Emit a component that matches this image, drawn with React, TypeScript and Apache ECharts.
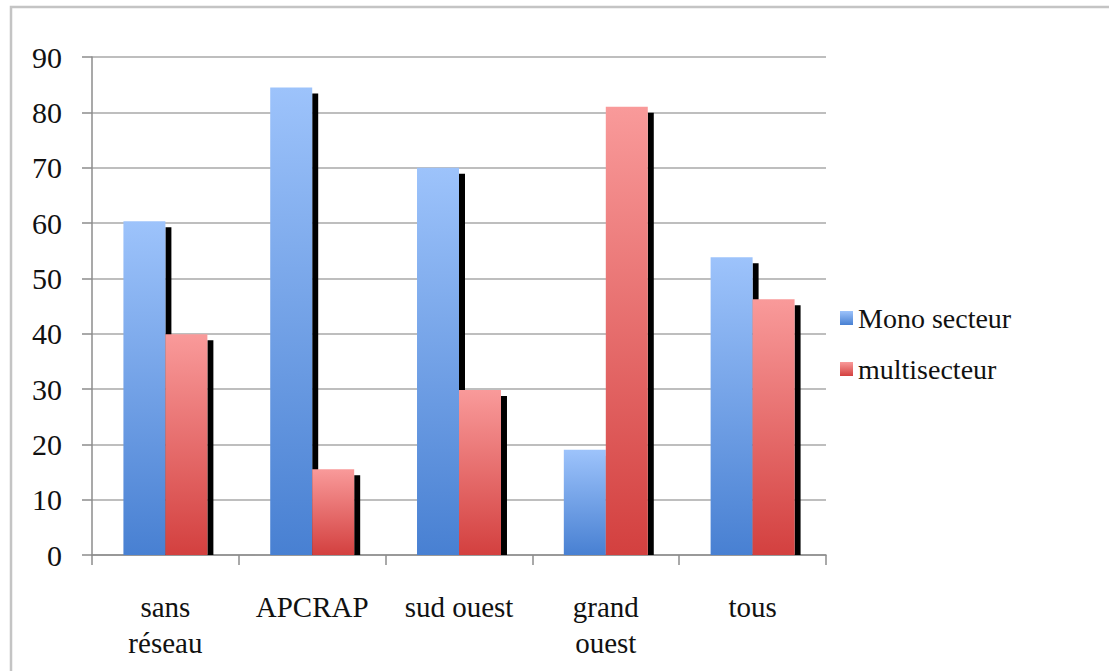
import React, { useEffect, useRef } from "react";
import * as echarts from "echarts";

const categories = ["sans\nréseau", "APCRAP", "sud ouest", "grand\nouest", "tous"];
const monoSecteur = [60.3, 84.5, 70, 19, 53.8];
const multiSecteur = [39.9, 15.5, 29.8, 81, 46.2];
const seriesNames = ["Mono secteur", "multisecteur"];
const yTicks = { min: 0, max: 90, interval: 10 };

const FONT = "Liberation Serif";

export default function App() {
  const ref = useRef<HTMLDivElement>(null);
  useEffect(() => {
    document.body.style.margin = "0";
    if (!ref.current) return;
    const chart = echarts.init(ref.current, undefined, { renderer: "svg" });

    const blueGrad = new echarts.graphic.LinearGradient(0, 0, 0, 1, [
      { offset: 0, color: "#9dc3fb" },
      { offset: 1, color: "#4880d2" },
    ]);
    const redGrad = new echarts.graphic.LinearGradient(0, 0, 0, 1, [
      { offset: 0, color: "#f99a9a" },
      { offset: 1, color: "#d3403f" },
    ]);

    const BAR_FRAC = 0.286;
    const SH = 6;

    const makeRender = (slot: number, grad: any) => (params: any, api: any) => {
      const idx = api.value(0);
      const val = api.value(1);
      const top = api.coord([idx, val]);
      const base = api.coord([idx, 0]);
      const band = api.size([1, 0])[0];
      const w = band * BAR_FRAC;
      const x = top[0] + (slot === 0 ? -w : 0);
      const h = base[1] - top[1];
      return {
        type: "group",
        children: [
          {
            type: "rect",
            shape: { x: x + w, y: top[1] + SH, width: SH, height: Math.max(0, h - SH) },
            style: { fill: "#000" },
          },
          {
            type: "rect",
            shape: { x, y: top[1], width: w, height: h },
            style: { fill: grad },
          },
        ],
      };
    };

    chart.setOption({
      animation: false,
      backgroundColor: "#fff",
      graphic: [
        {
          type: "rect",
          shape: { x: 11, y: 7, width: 1200, height: 800 },
          style: { fill: "none", stroke: "#c4c4c4", lineWidth: 2.5 },
          z: -10,
        },
      ],
      grid: { left: 92, right: 283, top: 57, bottom: 116 },
      legend: {
        orient: "vertical",
        left: 835,
        top: 299,
        itemWidth: 13,
        itemHeight: 14,
        itemGap: 23,
        icon: "rect",
        textStyle: { fontFamily: FONT, fontSize: 28, color: "#111" },
        data: seriesNames,
      },
      xAxis: {
        type: "category",
        data: categories,
        boundaryGap: true,
        axisLine: { lineStyle: { color: "#8c8c8c", width: 1.5 } },
        axisTick: { show: true, length: 10, lineStyle: { color: "#8c8c8c", width: 1.5 } },
        axisLabel: {
          fontFamily: FONT,
          fontSize: 29,
          color: "#111",
          margin: 34,
          lineHeight: 36,
          interval: 0,
        },
      },
      yAxis: {
        type: "value",
        min: yTicks.min,
        max: yTicks.max,
        interval: yTicks.interval,
        axisLine: { show: true, lineStyle: { color: "#8c8c8c", width: 1.5 } },
        axisTick: { show: true, length: 10, lineStyle: { color: "#8c8c8c", width: 1.5 } },
        splitLine: { lineStyle: { color: "#a8a8a8", width: 1.5 } },
        axisLabel: { fontFamily: FONT, fontSize: 30, color: "#111", margin: 30 },
      },
      series: [
        {
          name: seriesNames[0],
          type: "custom",
          itemStyle: { color: blueGrad },
          encode: { x: 0, y: 1 },
          data: monoSecteur.map((v, i) => [i, v]),
          renderItem: makeRender(0, blueGrad),
        },
        {
          name: seriesNames[1],
          type: "custom",
          itemStyle: { color: redGrad },
          encode: { x: 0, y: 1 },
          data: multiSecteur.map((v, i) => [i, v]),
          renderItem: makeRender(1, redGrad),
        },
      ],
    });
    return () => chart.dispose();
  }, []);
  return <div ref={ref} style={{ width: 1109, height: 671 }} />;
}
